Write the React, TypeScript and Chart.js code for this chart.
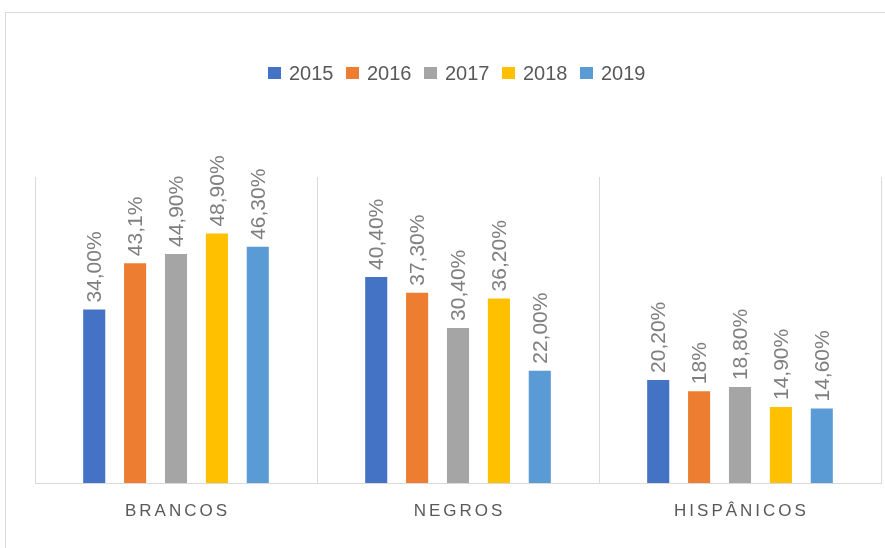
import React, { useEffect, useRef } from "react";
import { Chart, registerables } from "chart.js";

Chart.register(...registerables);

const categories = ["BRANCOS", "NEGROS", "HISPÂNICOS"];
const seriesNames = ["2015", "2016", "2017", "2018", "2019"];
const seriesColors = ["#4472C4", "#ED7D31", "#A5A5A5", "#FFC000", "#5B9BD5"];
const values2015 = [34.0, 40.4, 20.2];
const values2016 = [43.1, 37.3, 18.0];
const values2017 = [44.9, 30.4, 18.8];
const values2018 = [48.9, 36.2, 14.9];
const values2019 = [46.3, 22.0, 14.6];
const labels2015 = ["34,00%", "40,40%", "20,20%"];
const labels2016 = ["43,1%", "37,30%", "18%"];
const labels2017 = ["44,90%", "30,40%", "18,80%"];
const labels2018 = ["48,90%", "36,20%", "14,90%"];
const labels2019 = ["46,30%", "22,00%", "14,60%"];

const allValues = [values2015, values2016, values2017, values2018, values2019];
const allLabels = [labels2015, labels2016, labels2017, labels2018, labels2019];

const FONT = "'Liberation Sans', Arial, sans-serif";

const decorPlugin = {
  id: "decor",
  beforeDraw(chart: any) {
    const ctx = chart.ctx;
    ctx.save();
    ctx.fillStyle = "#ffffff";
    ctx.fillRect(0, 0, chart.width, chart.height);
    ctx.strokeStyle = "#d9d9d9";
    ctx.lineWidth = 1;
    ctx.strokeRect(5.5, 12.5, 1000, 1000);
    ctx.restore();
  },
  afterDatasetsDraw(chart: any) {
    const ctx = chart.ctx;
    ctx.save();
    // data labels
    chart.data.datasets.forEach((ds: any, di: number) => {
      const meta = chart.getDatasetMeta(di);
      meta.data.forEach((bar: any, i: number) => {
        ctx.save();
        ctx.translate(bar.x, bar.y - 7);
        ctx.rotate(-Math.PI / 2);
        ctx.font = "21px " + FONT;
        ctx.fillStyle = "#7f7f7f";
        ctx.textAlign = "left";
        ctx.textBaseline = "middle";
        ctx.fillText(allLabels[di][i], 0, 1);
        ctx.restore();
      });
    });
    // category labels
    const xs = chart.scales.x;
    ctx.font = "17px " + FONT;
    ctx.fillStyle = "#595959";
    ctx.textBaseline = "middle";
    ctx.textAlign = "left";
    (ctx as any).letterSpacing = "3px";
    categories.forEach((c, i) => {
      const cx = xs.getPixelForValue(i);
      const w = ctx.measureText(c).width - 3;
      ctx.fillText(c, cx - w / 2, 511);
    });
    (ctx as any).letterSpacing = "0px";
    // legend
    ctx.font = "20px " + FONT;
    const itemW = 78;
    const startX = 268;
    seriesNames.forEach((n, i) => {
      const x0 = startX + i * itemW;
      ctx.fillStyle = seriesColors[i];
      ctx.fillRect(x0, 67, 13, 12);
      ctx.fillStyle = "#595959";
      ctx.textBaseline = "middle";
      ctx.fillText(n, x0 + 21, 74);
    });
    ctx.restore();
  },
};

export default function App() {
  const ref = useRef<HTMLCanvasElement>(null);
  useEffect(() => {
    document.body.style.margin = "0";
    const chart = new Chart(ref.current!, {
      type: "bar",
      data: {
        labels: categories,
        datasets: seriesNames.map((n, i) => ({
          label: n,
          data: allValues[i],
          backgroundColor: seriesColors[i],
          barPercentage: 0.54,
          categoryPercentage: 0.725,
        })),
      },
      options: {
        animation: false,
        responsive: false,
        layout: { padding: { left: 35, right: 4, top: 177, bottom: 65 } },
        plugins: { legend: { display: false }, tooltip: { enabled: false } },
        scales: {
          x: {
            grid: { display: true, offset: true, color: "#d9d9d9", drawTicks: false },
            border: { display: true, color: "#d9d9d9" },
            ticks: { display: false },
          },
          y: {
            display: false,
            min: 0,
            max: 60,
          },
        },
      },
      plugins: [decorPlugin],
    });
    return () => chart.destroy();
  }, []);
  return <canvas ref={ref} width={885} height={548} style={{ display: "block" }} />;
}
